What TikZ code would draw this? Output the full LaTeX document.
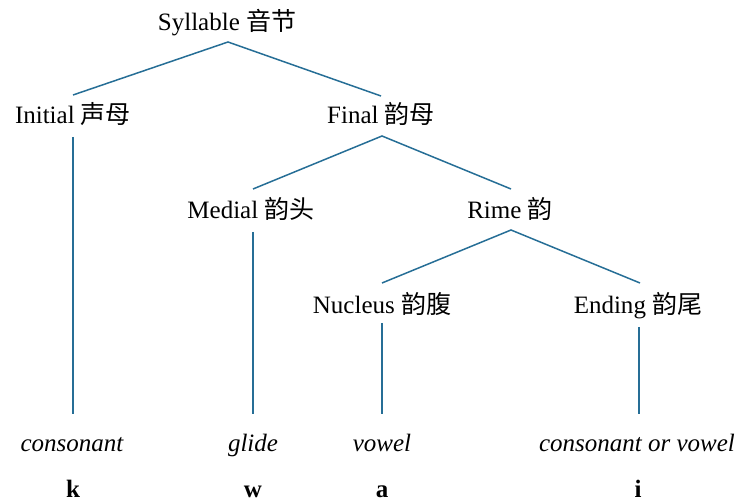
\documentclass[tikz,border=0pt]{standalone}
\usepackage{fontspec}
\setmainfont{Liberation Serif}
\newfontfamily\cjk{Noto Sans CJK SC}
\newcommand{\zh}[1]{{\cjk #1}}
\definecolor{linecol}{RGB}{38,110,150}
\begin{document}
\begin{tikzpicture}[x=1pt,y=-1pt,
  lbl/.style={anchor=base,inner sep=0pt,font=\fontsize{25}{30}\selectfont},
  edge/.style={draw=linecol,line width=1.5pt}]
\useasboundingbox (0,0) rectangle (741,502);
% labels
\node[lbl] (syl) at (227,31) {Syllable \zh{音节}};
\node[lbl] (ini) at (73,124) {Initial \zh{声母}};
\node[lbl] (fin) at (381,124) {Final \zh{韵母}};
\node[lbl] (med) at (251,219) {Medial \zh{韵头}};
\node[lbl] (rim) at (510,219) {Rime \zh{韵}};
\node[lbl] (nuc) at (382,313) {Nucleus \zh{韵腹}};
\node[lbl] (end) at (638,313) {Ending \zh{韵尾}};
\node[lbl] (c1) at (72,451) {\itshape consonant};
\node[lbl] (c2) at (253,451) {\itshape glide};
\node[lbl] (c3) at (382,451) {\itshape vowel};
\node[lbl] (c4) at (637,451) {\itshape consonant or vowel};
\node[lbl] (s1) at (73,497) {\bfseries k};
\node[lbl] (s2) at (253,497) {\bfseries w};
\node[lbl] (s3) at (382,497) {\bfseries a};
\node[lbl] (s4) at (638,497) {\bfseries i};
% connector ends
\coordinate (sylB) at (228,42);
\coordinate (iniT) at (73,95);
\coordinate (finT) at (381,96);
\coordinate (iniB) at (73,137);
\coordinate (finB) at (382,136);
\coordinate (medT) at (253,189);
\coordinate (rimT) at (511,189);
\coordinate (medB) at (253,232);
\coordinate (rimB) at (511,230);
\coordinate (nucT) at (382,283);
\coordinate (endT) at (640,283);
\coordinate (nucB) at (382,323);
\coordinate (endB) at (639,327);
\coordinate (c1T) at (73,414);
\coordinate (c2T) at (253,414);
\coordinate (c3T) at (382,414);
\coordinate (c4T) at (639,414);
% connectors
\draw[edge] (iniT) -- (sylB) -- (finT);
\draw[edge] (medT) -- (finB) -- (rimT);
\draw[edge] (nucT) -- (rimB) -- (endT);
\draw[edge] (iniB) -- (c1T);
\draw[edge] (medB) -- (c2T);
\draw[edge] (nucB) -- (c3T);
\draw[edge] (endB) -- (c4T);
\end{tikzpicture}
\end{document}
